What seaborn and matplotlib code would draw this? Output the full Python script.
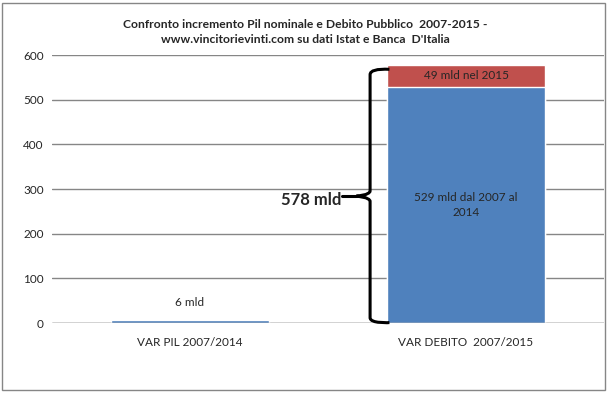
import matplotlib
matplotlib.use("Agg")
import matplotlib.pyplot as plt
import seaborn as sns
import numpy as np
from matplotlib.path import Path
from matplotlib.patches import PathPatch, Rectangle

# dati
categorie = ["VAR PIL 2007/2014", "VAR DEBITO  2007/2015"]
base = [6, 529]        # incremento fino al 2014
extra = [0, 49]        # incremento nel 2015
etichette_base = ["6 mld", "529 mld dal 2007 al\n2014"]
etichetta_extra = "49 mld nel 2015"
totale_txt = "578 mld"
titolo = "Confronto incremento Pil nominale e Debito Pubblico  2007-2015 -\nwww.vincitorievinti.com su dati Istat e Banca  D'Italia"
yticks = [0, 100, 200, 300, 400, 500, 600]

sns.set_style("white")
plt.rcParams["font.family"] = ["Lato", "DejaVu Sans"]

blu = "#4F81BD"
rosso = "#C0504D"
totali = [b + e for b, e in zip(base, extra)]

fig = plt.figure(figsize=(6.11, 3.96), dpi=100)
ax = fig.add_axes([52/611, 1 - 323/396, 552/611, 268/396])

larg = 0.575
sns.barplot(x=categorie, y=totali, color=rosso, width=larg, saturation=1, ax=ax, zorder=2)
sns.barplot(x=categorie, y=base, color=blu, width=larg, saturation=1, ax=ax, zorder=3)

ax.set_ylim(0, 600)
ax.set_xlim(-0.5, 1.5)
ax.set_yticks(yticks)
ax.set_yticklabels([str(t) for t in yticks], fontsize=8.5)
ax.tick_params(axis="x", labelsize=8.5, length=0, pad=10)
ax.tick_params(axis="y", length=0, pad=6)
ax.yaxis.grid(True, color="#868686", lw=1)
ax.set_axisbelow(True)
for s in ax.spines.values():
    s.set_visible(False)
ax.axhline(0, color="#868686", lw=1, zorder=4)

# etichette dati
ax.text(0, base[0] + 40, etichette_base[0], ha="center", va="center", fontsize=8.5)
ax.text(1, base[1] / 2, etichette_base[1], ha="center", va="center", fontsize=8.5, linespacing=1.5)
ax.text(1, base[1] + extra[1] / 2, etichetta_extra, ha="center", va="center", fontsize=8.5)

# graffa
x_fine = 1 - larg / 2 + 0.01
x_mid = x_fine - 0.07
x_punta = x_mid - 0.05
top = totali[1] - 10
bot = 0
mid = totali[1] / 2 - 5
r = 12
verts = [
    (x_fine, top), (x_mid, top + 2), (x_mid, top - r),
    (x_mid, mid + r),
    (x_mid, mid + 2), (x_punta, mid), (x_punta, mid),
    (x_punta, mid), (x_mid, mid - 2), (x_mid, mid - r),
    (x_mid, bot + r),
    (x_mid, bot - 2), (x_fine, bot + 1), (x_fine, bot + 1),
]
codes = [Path.MOVETO, Path.CURVE3, Path.CURVE3,
         Path.LINETO,
         Path.CURVE4, Path.CURVE4, Path.CURVE4,
         Path.CURVE4, Path.CURVE4, Path.CURVE4,
         Path.LINETO,
         Path.CURVE4, Path.CURVE4, Path.CURVE4]
ax.add_patch(PathPatch(Path(verts, codes), fill=False, lw=2.2, color="black", zorder=6, clip_on=False))
ax.plot([x_punta - 0.05, x_punta], [mid, mid], color="black", lw=2.2, zorder=6)
ax.text(x_punta - 0.055, mid - 8, totale_txt, ha="right", va="center", fontsize=12, fontweight="bold",
        zorder=7)

fig.text(0.5, 1 - 32/396, titolo, ha="center", va="center", fontsize=8.7, fontweight="bold", linespacing=1.5)

# bordo del grafico
fig.patches.append(Rectangle((2/611, 1 - 390/396), 603/611, 387/396, transform=fig.transFigure,
                             fill=False, edgecolor="#868686", lw=1))

fig.savefig("out.png", dpi=100)
